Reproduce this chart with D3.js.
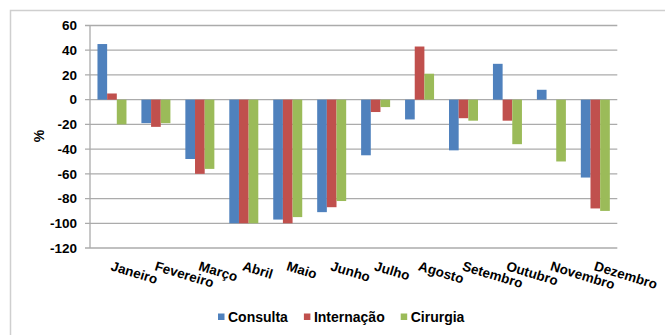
<!DOCTYPE html>
<html>
<head>
<meta charset="utf-8">
<script src="https://cdn.jsdelivr.net/npm/d3@7"></script>
<style>
  html, body { margin: 0; padding: 0; background: #fff; }
  svg { display: block; font-family: "Liberation Sans", Arial, sans-serif; }
</style>
</head>
<body>
<svg id="chart" width="665" height="335"></svg>
<script>
// Monthly variation (%) by type of procedure
const months = ["Janeiro", "Fevereiro", "Março", "Abril", "Maio", "Junho",
                "Julho", "Agosto", "Setembro", "Outubro", "Novembro", "Dezembro"];
const seriesNames = ["Consulta", "Internação", "Cirurgia"];
const consulta   = [45, -19, -48, -100, -97, -91, -45, -16, -41, 29, 8, -63];
const internacao = [5, -22, -60, -100, -100, -87, -10, 43, -15, -17, 0, -88];
const cirurgia   = [-20, -19, -56, -100, -95, -82, -6, 21, -17, -36, -50, -90];
const yTicks = [60, 40, 20, 0, -20, -40, -60, -80, -100, -120];
const colors = ["#4f81bd", "#c0504d", "#9bbb59"];

const seriesValues = [consulta, internacao, cirurgia];
const rows = months.map((m, i) => ({
  month: m,
  values: seriesNames.map((s, j) => ({ series: s, value: seriesValues[j][i] }))
}));

const svg = d3.select("#chart");

// outer chart frame
svg.append("rect")
  .attr("x", 10.5).attr("y", 10.5)
  .attr("width", 700).attr("height", 400)
  .attr("fill", "none").attr("stroke", "#cfcfcf").attr("stroke-width", 1.5);

const plot = { left: 90, right: 617.3, top: 25.5, bottom: 248 };

const x = d3.scaleBand()
  .domain(months)
  .range([plot.left, plot.right])
  .paddingInner(0.34)
  .paddingOuter(0.17);

const xs = d3.scaleBand()
  .domain(seriesNames)
  .range([0, x.bandwidth()])
  .padding(0);

const y = d3.scaleLinear()
  .domain([-120, 60])
  .range([plot.bottom, plot.top]);

// gridlines
svg.append("g")
  .selectAll("line")
  .data(yTicks)
  .join("line")
  .attr("x1", plot.left - 5).attr("x2", plot.right)
  .attr("y1", d => y(d)).attr("y2", d => y(d))
  .attr("stroke", "#ababab").attr("stroke-width", 1.3);

// left axis line
svg.append("line")
  .attr("x1", plot.left).attr("x2", plot.left)
  .attr("y1", y(60)).attr("y2", y(-120))
  .attr("stroke", "#ababab").attr("stroke-width", 1.3);

// y tick labels (plain hyphen for negatives)
const yAxis = d3.axisLeft(y).tickValues(yTicks).tickSize(0).tickPadding(0)
  .tickFormat(d => String(d));
const yg = svg.append("g")
  .attr("transform", `translate(${plot.left - 13},0)`)
  .call(yAxis);
yg.select(".domain").remove();
yg.selectAll("text")
  .attr("font-size", "13.5px")
  .attr("font-weight", "bold")
  .attr("fill", "#000")
  .attr("font-family", "'Liberation Sans', Arial, sans-serif");

// y axis title
svg.append("text")
  .attr("transform", "translate(43.5,136) rotate(-90)")
  .attr("text-anchor", "middle")
  .attr("font-size", "14px")
  .attr("font-weight", "bold")
  .text("%");

// bars
const groups = svg.append("g")
  .selectAll("g")
  .data(rows)
  .join("g")
  .attr("transform", d => `translate(${x(d.month)},0)`);

groups.selectAll("rect")
  .data(d => d.values)
  .join("rect")
  .attr("x", d => xs(d.series))
  .attr("width", xs.bandwidth())
  .attr("y", d => y(Math.max(0, d.value)))
  .attr("height", d => Math.abs(y(d.value) - y(0)))
  .attr("fill", (d, i) => colors[i]);

// rotated month labels
svg.append("g")
  .selectAll("text")
  .data(months)
  .join("text")
  .attr("transform", d => `translate(${x(d) + x.bandwidth() / 2 - 2},270) rotate(17)`)
  .attr("text-anchor", "start")
  .attr("font-size", "13.5px")
  .attr("font-weight", "bold")
  .text(d => d);

// legend
const legend = svg.append("g").attr("transform", "translate(218,0)");
let lx = 0;
seriesNames.forEach((name, i) => {
  legend.append("rect")
    .attr("x", lx).attr("y", 313.5)
    .attr("width", 6.5).attr("height", 6.5)
    .attr("fill", colors[i]);
  const t = legend.append("text")
    .attr("x", lx + 10).attr("y", 322)
    .attr("font-size", "14px")
    .attr("font-weight", "bold")
    .text(name);
  lx += 10 + t.node().getComputedTextLength() + 16;
});
</script>
</body>
</html>
